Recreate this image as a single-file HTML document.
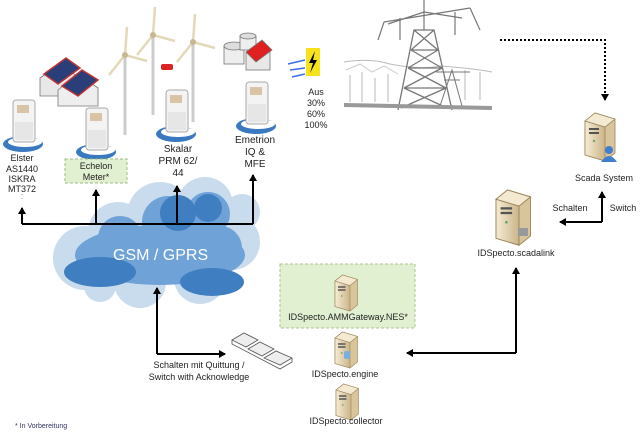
<!DOCTYPE html>
<html><head><meta charset="utf-8"><style>
html,body{margin:0;padding:0;background:#fff;}
svg{display:block;font-family:"Liberation Sans",sans-serif;}
</style></head><body>
<svg width="640" height="432" viewBox="0 0 640 432" xmlns="http://www.w3.org/2000/svg">
<defs>
<marker id="ah" markerWidth="8" markerHeight="8" refX="6" refY="4" orient="auto" markerUnits="userSpaceOnUse"><path d="M0,0 L7,4 L0,8 z" fill="#000"/></marker>
<linearGradient id="sv" x1="0" x2="1"><stop offset="0" stop-color="#f6ecd4"/><stop offset="1" stop-color="#cbb58a"/></linearGradient>
<g id="server"><path d="M0,8 L10,0 L30,6 L30,40 L20,48 L0,42 z" fill="#d9c59c" stroke="#9a8458" stroke-width="0.8"/><path d="M0,8 L20,14 L20,48 L0,42 z" fill="url(#sv)" stroke="#9a8458" stroke-width="0.8"/><path d="M0,8 L10,0 L30,6 L20,14 z" fill="#f4ead2" stroke="#9a8458" stroke-width="0.8"/><rect x="4" y="15" width="10" height="2" fill="#555"/><rect x="4" y="19" width="10" height="2" fill="#555"/><circle cx="9" cy="28" r="1.2" fill="#6a6"/></g>
<g id="meter"><ellipse cx="18" cy="44" rx="20" ry="8" fill="#3a78c0"/><ellipse cx="20" cy="42" rx="17" ry="5" fill="#fff"/><rect x="8" y="0" width="22" height="42" rx="3" fill="#f3f3f3" stroke="#aaa"/><rect x="12" y="5" width="12" height="8" fill="#d9c4a8"/><rect x="10" y="22" width="18" height="18" fill="#e6e6e6"/></g>
<g id="mill"><line x1="0" y1="20" x2="0" y2="100" stroke="#ccc" stroke-width="3"/><path d="M0,20 L2,-8 M0,20 L-16,40 M0,20 L22,26" stroke="#e3d8b8" stroke-width="2.5"/><circle cx="0" cy="20" r="3" fill="#c8b88e"/></g>
</defs>

<!-- houses -->
<g stroke="#777" stroke-width="0.8">
<path d="M40,78 L62,62 L78,78 L78,96 L40,96 z" fill="#e8e8e8"/>
<path d="M44,74 L66,58 L80,68 L58,84 z" fill="#2a3f7a" stroke="#b33" stroke-width="1.5"/>
<path d="M58,90 L78,74 L98,88 L98,106 L58,106 z" fill="#eee"/>
<path d="M62,86 L82,70 L98,80 L78,96 z" fill="#2a3f7a" stroke="#b33" stroke-width="1.5"/>
</g>
<use href="#mill" x="125" y="35"/>
<use href="#mill" x="153" y="15"/>
<use href="#mill" x="193" y="22"/>
<rect x="161" y="64" width="12" height="6" rx="2" fill="#d22"/>
<!-- biogas -->
<g stroke="#777" stroke-width="0.8">
<rect x="224" y="46" width="20" height="18" fill="#eee"/><ellipse cx="234" cy="46" rx="10" ry="4" fill="#ddd"/>
<rect x="240" y="36" width="16" height="14" fill="#eee"/><ellipse cx="248" cy="36" rx="8" ry="3" fill="#ddd"/>
<rect x="246" y="52" width="24" height="18" fill="#e8e8e8"/>
<path d="M246,52 L262,40 L272,50 L256,62 z" fill="#e02020"/>
</g>
<!-- meters -->
<use href="#meter" x="5" y="100"/>
<use href="#meter" x="78" y="108"/>
<use href="#meter" x="158" y="90"/>
<use href="#meter" x="238" y="82"/>
<g font-size="9" fill="#222" text-anchor="middle">
<text x="22" y="161">Elster</text><text x="22" y="172">AS1440</text><text x="22" y="182">ISKRA</text><text x="22" y="192">MT372</text><text x="22" y="199" fill="#888">:</text>
<text x="178" y="152" font-size="10">Skalar</text><text x="178" y="164" font-size="10">PRM 62/</text><text x="178" y="176" font-size="10">44</text>
<text x="255" y="143" font-size="10">Emetrion</text><text x="255" y="155" font-size="10">IQ &amp;</text><text x="255" y="167" font-size="10">MFE</text>
<text x="316" y="95">Aus</text><text x="316" y="106">30%</text><text x="316" y="117">60%</text><text x="316" y="128">100%</text>
</g>
<rect x="65" y="159" width="62" height="24" fill="#e2f0d2" stroke="#9bbb80" stroke-dasharray="3,2"/>
<text x="96" y="169" font-size="9" text-anchor="middle" fill="#222">Echelon</text>
<text x="96" y="180" font-size="9" text-anchor="middle" fill="#222">Meter*</text>
<!-- lightning -->
<rect x="306" y="48" width="14" height="28" fill="#f5e21a"/>
<path d="M315,51 L309,63 L313,63 L310,73 L317,60 L313,60 z" fill="#000"/>
<g stroke="#3a6ee8" stroke-width="1.5"><line x1="288" y1="64" x2="305" y2="60"/><line x1="290" y1="70" x2="305" y2="68"/><line x1="292" y1="77" x2="305" y2="74"/></g>
<!-- tower -->
<g stroke="#777" stroke-width="1" fill="none">
<path d="M344,62 Q370,58 390,64 Q420,70 440,66 Q470,68 492,72" stroke="#bbb"/>
<path d="M346,70 L360,64 L372,72 L384,66 L398,74" stroke="#ccc"/>
<g stroke="#888" stroke-width="0.6">
<line x1="350" y1="75" x2="350" y2="102"/><line x1="362" y1="72" x2="362" y2="102"/><line x1="375" y1="78" x2="375" y2="102"/><line x1="388" y1="74" x2="388" y2="102"/>
<line x1="465" y1="70" x2="465" y2="100"/><line x1="480" y1="72" x2="480" y2="100"/>
</g>
<path d="M398,110 L414,30 L434,30 L452,110 M404,88 L446,88 M408,68 L442,68 M411,50 L438,50 M404,88 L447,108 M446,88 L401,108 M408,68 L446,88 M442,68 L404,88 M411,50 L442,68 M438,50 L408,68 M414,30 L438,50 M434,30 L411,50" stroke-width="1.3"/>
<path d="M384,22 L470,8 M388,24 L424,12 L462,18 M424,0 L424,30 M400,18 L400,40 M455,12 L455,35 M470,8 L480,30 M384,22 L378,40" stroke-width="1.2"/>
<path d="M440,106 L452,70 L462,106 M444,80 L460,80 M436,72 L470,72" stroke-width="1"/>
<line x1="344" y1="105" x2="492" y2="108" stroke="#999" stroke-width="4"/>
</g>
<!-- dotted -->
<path d="M500,40 L605,40 L605,100" fill="none" stroke="#000" stroke-width="2" stroke-dasharray="2,2" marker-end="url(#ah)"/>
<!-- scada -->
<use href="#server" x="585" y="113"/>
<circle cx="609" cy="150" r="4" fill="#3f7fd0"/><path d="M601,162 Q609,150 617,162 z" fill="#3f7fd0"/>
<text x="604" y="181" font-size="9" text-anchor="middle" fill="#222">Scada System</text>
<path d="M602,222 L602,192" stroke="#000" stroke-width="2" marker-end="url(#ah)"/>
<path d="M602,222 L560,222" stroke="#000" stroke-width="2" fill="none" marker-end="url(#ah)"/>
<text x="570" y="211" font-size="9" text-anchor="middle" fill="#222">Schalten</text>
<text x="623" y="211" font-size="9" text-anchor="middle" fill="#222">Switch</text>
<!-- scadalink -->
<g transform="translate(496,190) scale(1.15)"><use href="#server"/></g>
<rect x="518" y="228" width="10" height="8" fill="#999"/>
<text x="516" y="256" font-size="9" text-anchor="middle" fill="#222">IDSpecto.scadalink</text>
<path d="M516,353 L516,268" stroke="#000" stroke-width="2" marker-end="url(#ah)"/>
<path d="M516,353 L407,353" stroke="#000" stroke-width="2" marker-end="url(#ah)"/>
<!-- green box -->
<rect x="280" y="264" width="135" height="64" fill="#e2f0d2" stroke="#a9c58f" stroke-dasharray="3,2"/>
<g transform="translate(335,275) scale(0.75)"><use href="#server"/></g>
<text x="348" y="320" font-size="9" text-anchor="middle" fill="#222">IDSpecto.AMMGateway.NES*</text>
<g transform="translate(335,332) scale(0.75)"><use href="#server"/></g>
<rect x="344" y="351" width="6" height="8" rx="2" fill="#7ab0e0"/>
<text x="345" y="377" font-size="9" text-anchor="middle" fill="#222">IDSpecto.engine</text>
<g transform="translate(336,384) scale(0.75)"><use href="#server"/></g>
<text x="346" y="424" font-size="9" text-anchor="middle" fill="#222">IDSpecto.collector</text>
<!-- cloud -->
<g fill="#c8dcee">
<circle cx="85" cy="258" r="32"/><circle cx="118" cy="232" r="30"/><circle cx="160" cy="215" r="33"/>
<circle cx="205" cy="205" r="28"/><circle cx="232" cy="242" r="28"/><circle cx="200" cy="278" r="26"/>
<circle cx="140" cy="282" r="26"/><circle cx="100" cy="286" r="16"/><circle cx="242" cy="212" r="18"/>
</g>
<g fill="#6fa2d6">
<ellipse cx="160" cy="255" rx="85" ry="30"/><circle cx="120" cy="238" r="22"/><circle cx="168" cy="222" r="26"/><circle cx="208" cy="214" r="22"/><circle cx="220" cy="248" r="22"/>
</g>
<g fill="#3f7ec0">
<ellipse cx="100" cy="272" rx="36" ry="15"/>
<circle cx="178" cy="213" r="18"/><circle cx="208" cy="208" r="14"/>
<ellipse cx="212" cy="282" rx="32" ry="14"/>
</g>
<text x="113" y="260" font-size="16" fill="#fff">GSM / GPRS</text>
<!-- bus -->
<g stroke="#000" stroke-width="2" fill="none">
<path d="M22,224 L253,224"/>
<path d="M22,224 L22,208" marker-end="url(#ah)"/>
<path d="M96,224 L96,190" marker-end="url(#ah)"/>
<path d="M177,224 L177,186" marker-end="url(#ah)"/>
<path d="M253,224 L253,175" marker-end="url(#ah)"/>
<path d="M157,354 L157,288" marker-end="url(#ah)"/>
<path d="M157,354 L225,354" marker-end="url(#ah)"/>
</g>
<!-- devices -->
<g stroke="#555" stroke-width="0.8" fill="#eee">
<path d="M232,340 L244,333 L258,340 L246,347 z"/>
<path d="M248,349 L260,342 L274,349 L262,356 z"/>
<path d="M264,358 L276,351 L292,358 L280,365 z"/>
<path d="M232,340 L232,344 L280,369 L292,362 L292,358" fill="none"/>
</g>
<text x="199" y="368" font-size="9" text-anchor="middle" fill="#222">Schalten mit Quittung /</text>
<text x="199" y="380" font-size="9" text-anchor="middle" fill="#222">Switch with Acknowledge</text>
<text x="15" y="428" font-size="7" fill="#336">* In Vorbereitung</text>
</svg>
</body></html>
